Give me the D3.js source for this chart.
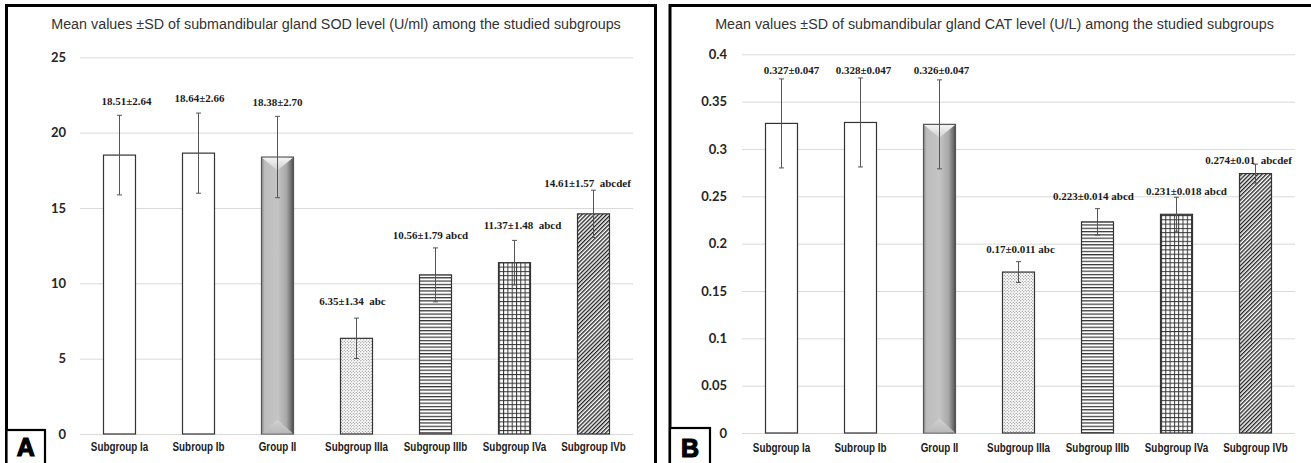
<!DOCTYPE html>
<html><head><meta charset="utf-8">
<script src="https://cdn.jsdelivr.net/npm/d3@7"></script>
<style>body{margin:0;background:#fff;} svg{display:block}</style>
</head><body><svg id="c" width="1311" height="463"></svg>
<script>
// ---------- DATA ----------
const categories = ["Subgroup Ia","Subroup Ib","Group II","Subgroup IIIa","Subgroup IIIb","Subgroup IVa","Subgroup IVb"];
const sodMean = [18.51,18.64,18.38,6.35,10.56,11.37,14.61];
const sodSD   = [2.64,2.66,2.70,1.34,1.79,1.48,1.57];
const sodSig  = ["","","","abc","abcd","abcd","abcdef"];
const sodSep  = ["","","","  "," ","  ","  "];
const catMean = [0.327,0.328,0.326,0.17,0.223,0.231,0.274];
const catSD   = [0.047,0.047,0.047,0.011,0.014,0.018,0.01];
const catSig  = ["","","","abc","abcd","abcd","abcdef"];
const catSep  = ["","",""," "," "," ","  "];
const sodTicks = [0,5,10,15,20,25];
const catTicks = [0,0.05,0.1,0.15,0.2,0.25,0.3,0.35,0.4];
const sodTitle = "Mean values \u00B1SD of submandibular gland SOD level (U/ml) among the studied subgroups";
const catTitle = "Mean values \u00B1SD of submandibular gland CAT level (U/L) among the studied subgroups";

// ---------- STYLE ----------
const fills = ["#fff","#fff","url(#bevelH)","url(#pDots)","url(#pH)","url(#pGrid)","url(#pDiag)"];

const svg = d3.select("#c");
svg.append("rect").attr("width",1311).attr("height",463).attr("fill","#fff");
const defs = svg.append("defs");

// patterns
let p = defs.append("pattern").attr("id","pDots").attr("patternUnits","userSpaceOnUse").attr("width",3).attr("height",3);
p.append("rect").attr("width",3).attr("height",3).attr("fill","#fff");
p.append("circle").attr("cx",0.75).attr("cy",0.75).attr("r",0.55).attr("fill","#666");
p.append("circle").attr("cx",2.25).attr("cy",2.25).attr("r",0.55).attr("fill","#666");

p = defs.append("pattern").attr("id","pH").attr("patternUnits","userSpaceOnUse").attr("width",10).attr("height",3.3);
p.append("rect").attr("width",10).attr("height",3.3).attr("fill","#fff");
p.append("rect").attr("width",10).attr("height",1.2).attr("fill","#333");

p = defs.append("pattern").attr("id","pGrid").attr("patternUnits","userSpaceOnUse").attr("width",4.3).attr("height",4.3);
p.append("rect").attr("width",4.3).attr("height",4.3).attr("fill","#fff");
p.append("rect").attr("width",1).attr("height",4.3).attr("fill","#333");
p.append("rect").attr("width",4.3).attr("height",1).attr("fill","#333");

p = defs.append("pattern").attr("id","pDiag").attr("patternUnits","userSpaceOnUse").attr("width",2.9).attr("height",6)
  .attr("patternTransform","rotate(45)");
p.append("rect").attr("width",2.9).attr("height",6).attr("fill","#fff");
p.append("rect").attr("width",1.35).attr("height",6).attr("fill","#222");

function grad(id, stops, vertical){
  const g = defs.append("linearGradient").attr("id",id).attr("x1",0).attr("y1",0)
    .attr("x2",vertical?0:1).attr("y2",vertical?1:0);
  stops.forEach(s=>g.append("stop").attr("offset",s[0]).attr("stop-color",s[1]));
}
grad("bevelH",[[0,"#8e8e8e"],[0.1,"#bdbdbd"],[0.5,"#c4c4c4"],[0.78,"#a8a8a8"],[0.9,"#7a7a7a"],[1,"#4d4d4d"]],false);
grad("bevelTop",[[0,"#f4f4f4"],[1,"#cfcfcf"]],true);
grad("bevelBot",[[0,"#d2d2d2"],[1,"#b8b8b8"]],true);

function drawPanel(cfg){
  const g = svg.append("g");
  const x = d3.scaleBand().domain(categories).range([cfg.gx0, cfg.gx1]).paddingInner(0.595).paddingOuter(0.2975);
  const y = d3.scaleLinear().domain([0, cfg.ticks[cfg.ticks.length-1]]).range([cfg.y0, cfg.yTop]);

  // gridlines + y labels
  const ya = g.append("g").attr("transform",`translate(${cfg.gx0},0)`)
    .call(d3.axisLeft(y).tickValues(cfg.ticks).tickSize(-(cfg.gx1-cfg.gx0)).tickPadding(cfg.yPad).tickFormat(d=>String(d)));
  ya.select(".domain").remove();
  ya.selectAll("line").attr("stroke","#d9d9d9").attr("stroke-width",1);
  ya.selectAll("text").attr("font-family","Lato, 'Open Sans', sans-serif").attr("font-weight","bold")
    .attr("font-size",13).attr("fill","#262626");

  // x labels
  const xa = g.append("g").attr("transform",`translate(0,${cfg.y0})`)
    .call(d3.axisBottom(x).tickSize(0).tickPadding(cfg.xPad));
  xa.select(".domain").remove();
  xa.selectAll("text").attr("font-family","'Liberation Sans', Arial, sans-serif").attr("font-weight","bold")
    .attr("font-size",12).attr("fill","#1a1a1a").attr("transform","scale(0.82,1)");

  const bw = x.bandwidth();
  // bars
  g.selectAll("rect.bar").data(cfg.mean).join("rect").attr("class","bar")
    .attr("x",(d,i)=>x(categories[i])).attr("y",d=>y(d))
    .attr("width",bw).attr("height",d=>y(0)-y(d))
    .attr("fill",(d,i)=>fills[i]).attr("stroke",(d,i)=>i==2?"#555":"#333").attr("stroke-width",1.2);

  // bevel triangles for Group II
  const bi = 2, bx = x(categories[bi]), bt = y(cfg.mean[bi]), bb = y(0);
  g.append("polygon").attr("points",[[bx+0.6,bt+0.6],[bx+bw-0.6,bt+0.6],[bx+bw/2,bt+bw*0.42]].map(q=>q.join(",")).join(" "))
    .attr("fill","url(#bevelTop)");
  g.append("polygon").attr("points",[[bx+0.6,bb-0.6],[bx+bw-0.6,bb-0.6],[bx+bw/2,bb-bw*0.45]].map(q=>q.join(",")).join(" "))
    .attr("fill","url(#bevelBot)");

  // error bars
  const eg = g.append("g").attr("stroke","#555").attr("stroke-width",1);
  cfg.mean.forEach((m,i)=>{
    const cx = x(categories[i]) + bw/2, lo = y(m-cfg.sd[i]), hi = y(m+cfg.sd[i]);
    eg.append("line").attr("x1",cx).attr("x2",cx).attr("y1",lo).attr("y2",hi);
    eg.append("line").attr("x1",cx-2.5).attr("x2",cx+2.5).attr("y1",lo).attr("y2",lo);
    eg.append("line").attr("x1",cx-2.5).attr("x2",cx+2.5).attr("y1",hi).attr("y2",hi);
  });

  // value labels
  g.selectAll("text.val").data(cfg.mean).join("text").attr("class","val")
    .attr("x",(d,i)=>x(categories[i])+bw/2+cfg.ldx[i])
    .attr("y",(d,i)=>y(d+cfg.sd[i])+cfg.ldy[i])
    .attr("dy","0.35em").attr("text-anchor","middle").style("white-space","pre")
    .attr("font-family","'Liberation Serif','Times New Roman',serif").attr("font-weight","bold")
    .attr("font-size",11).attr("fill","#1a1a1a")
    .text((d,i)=>cfg.fmt(d)+"\u00B1"+cfg.fmt(cfg.sd[i])+cfg.sep[i]+cfg.sig[i]);

  // title
  const t = g.append("text").attr("x",cfg.tcx).attr("y",cfg.tBase).attr("text-anchor","middle")
    .attr("font-family","'Liberation Sans', Arial, sans-serif").attr("font-size",14).attr("fill","#333")
    .text(cfg.title);
  const len = t.node().getComputedTextLength();
  t.attr("font-size",14*cfg.tw/len);

  // border
  g.append("rect").attr("x",cfg.bx).attr("y",5.5).attr("width",cfg.bw).attr("height",500)
    .attr("fill","none").attr("stroke","#000").attr("stroke-width",3);
  // letter box
  g.append("rect").attr("x",cfg.lbx).attr("y",cfg.lby).attr("width",cfg.lbw).attr("height",60)
    .attr("fill","#fff").attr("stroke","#000").attr("stroke-width",2.2);
  g.append("text").attr("x",cfg.lbx+cfg.lbw/2).attr("y",cfg.lBase).attr("text-anchor","middle")
    .attr("font-family","'Liberation Sans', Arial, sans-serif").attr("font-weight","bold").attr("font-size",25)
    .attr("fill","#000").attr("stroke","#000").attr("stroke-width",1.2).text(cfg.letter);
}

drawPanel({gx0:80, gx1:633, y0:434, yTop:57.3, ticks:sodTicks, mean:sodMean, sd:sodSD, sig:sodSig, sep:sodSep,
  fmt:d=>d.toFixed(2), yPad:14, xPad:8,
  ldx:[7,1,0,-4,-5,8,-6], ldy:[-14,-15,-14,-17,-13,-15,-7],
  title:sodTitle, tcx:336, tw:570, tBase:29,
  bx:6.5, bw:649, lbx:6.5, lby:430, lbw:38.5, lBase:456, letter:"A"});

drawPanel({gx0:742, gx1:1295, y0:433, yTop:54.3, ticks:catTicks, mean:catMean, sd:catSD, sig:catSig, sep:catSep,
  fmt:d=>String(d), yPad:15, xPad:10,
  ldx:[10,3,2,2,-4,10,-7], ldy:[-9,-8,-10,-12,-12,-6,-4],
  title:catTitle, tcx:994.5, tw:559, tBase:29,
  bx:670, bw:700, lbx:670, lby:428, lbw:40, lBase:457, letter:"B"});
</script></body></html>
